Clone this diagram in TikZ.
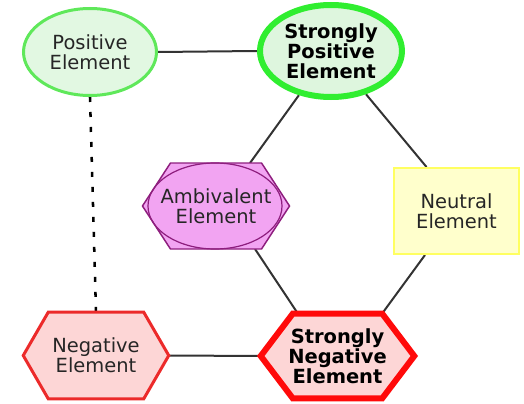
\documentclass[tikz,border=0pt]{standalone}
\usepackage{fontspec}
\setmainfont{DejaVu Sans}
\usetikzlibrary{calc,backgrounds,shapes.geometric}
\pgfdeclarelayer{edges}
\pgfsetlayers{edges,background,main}
\definecolor{posline}{HTML}{5FE85A}
\definecolor{posfill}{HTML}{E2F8E2}
\definecolor{spline}{HTML}{30EE30}
\definecolor{spfill}{HTML}{DEF6DE}
\definecolor{ambline}{HTML}{8E1E7E}
\definecolor{ambfill}{HTML}{F2A4F2}
\definecolor{neuline}{HTML}{FFFF60}
\definecolor{neufill}{HTML}{FFFFCC}
\definecolor{negline}{HTML}{EC2A2A}
\definecolor{snline}{HTML}{FF0A0A}
\definecolor{negfill}{HTML}{FDD6D6}
\definecolor{txt}{HTML}{262626}
\definecolor{conn}{HTML}{333333}
\begin{document}
\begin{tikzpicture}[x=0.75pt,y=-0.75pt,
  lbl/.style={align=center,font=\fontsize{14.6}{15}\selectfont,text=txt,inner sep=0pt},
  blbl/.style={lbl,font=\fontsize{14.6}{15}\selectfont\bfseries,text=black},
  conline/.style={draw=conn,line width=1.5pt},
  dotline/.style={draw=black,line width=1.9pt,dash pattern=on 3.75pt off 7.5pt}]
\useasboundingbox (0,0) rectangle (524,403);

% nodes
\node[lbl,ellipse,draw=posline,fill=posfill,line width=2.25pt,
      minimum width=99.75pt,minimum height=65.25pt] (pos) at (90,52) {Positive\\Element};
\node[blbl,ellipse,draw=spline,fill=spfill,line width=4.5pt,
      minimum width=106.5pt,minimum height=69pt] (sp) at (331,51) {Strongly\\Positive\\Element};
\node[lbl,minimum width=109.9pt,minimum height=64.1pt] (amb) at (216,206) {Ambivalent\\Element};
\node[lbl,rectangle,draw=neuline,fill=neufill,line width=1.5pt,
      minimum width=93.75pt,minimum height=64.5pt] (neu) at (456.5,211) {Neutral\\Element};
\node[lbl,minimum width=108.75pt,minimum height=64.5pt] (neg) at (96,355.5) {Negative\\Element};
\node[blbl,minimum width=114.75pt,minimum height=63pt] (sn) at (337.5,356) {Strongly\\Negative\\Element};

% hexagon bodies
\begin{scope}[on background layer]
  \draw[draw=ambline,fill=ambfill,line width=1.1pt,line join=miter]
    (amb.west) -- ($(amb.north west)+(28,0)$) -- ($(amb.north east)+(-28,0)$) -- (amb.east)
    -- ($(amb.south east)+(-28,0)$) -- ($(amb.south west)+(28,0)$) -- cycle;
  \draw[draw=ambline,line width=0.9pt] ($(amb.center)+(-1,0)$) ellipse [x radius=67, y radius=43];
  \draw[draw=negline,fill=negfill,line width=2.25pt,line join=miter]
    (neg.west) -- ($(neg.north west)+(25,0)$) -- ($(neg.north east)+(-25,0)$) -- (neg.east)
    -- ($(neg.south east)+(-25,0)$) -- ($(neg.south west)+(25,0)$) -- cycle;
  \draw[draw=snline,fill=negfill,line width=4.5pt,line join=miter]
    (sn.west) -- ($(sn.north west)+(32,0)$) -- ($(sn.north east)+(-32,0)$) -- (sn.east)
    -- ($(sn.south east)+(-32,0)$) -- ($(sn.south west)+(32,0)$) -- cycle;
\end{scope}

% connectors
\begin{pgfonlayer}{edges}
  \draw[conline] (pos.east) -- (sp.west);
  \draw[dotline] (pos.south) -- (neg.north);
  \draw[conline] (neg.east) -- (sn.west);
  \draw[conline] (sp.234) -- ($(amb.north)+(34,0)$);
  \draw[conline] (sp.309) -- ($(neu.north)+(-30,0)$);
  \draw[conline] ($(amb.south)+(39,0)$) -- ($(sn.north)+(-39.5,0)$);
  \draw[conline] ($(neu.south)+(-31.5,0)$) -- ($(sn.north)+(44.5,0)$);
\end{pgfonlayer}
\end{tikzpicture}
\end{document}
